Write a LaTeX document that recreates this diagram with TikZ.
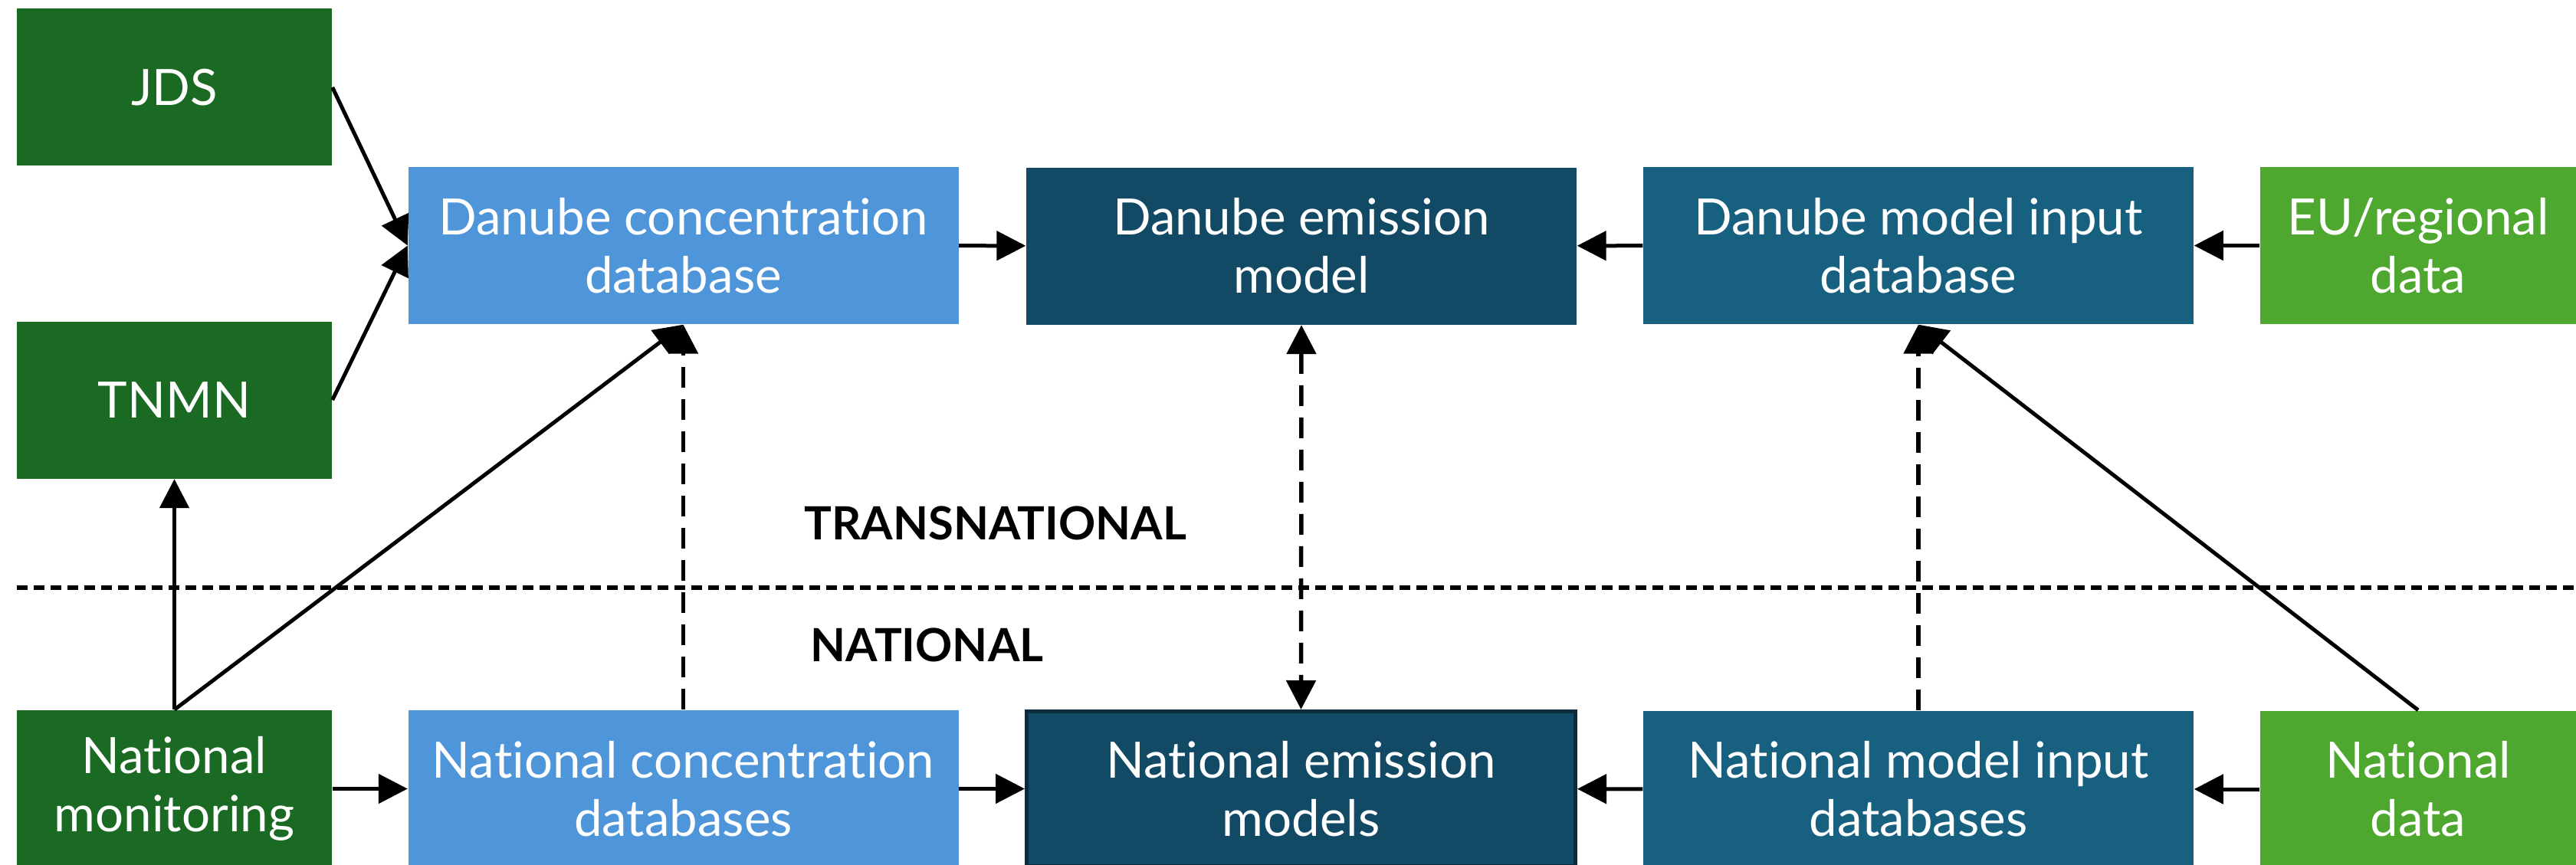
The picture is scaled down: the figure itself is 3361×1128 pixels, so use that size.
\documentclass[tikz,border=0pt]{standalone}
\usepackage{fontspec}
\setmainfont{Lato}[Ligatures=NoCommon]
\usetikzlibrary{arrows.meta}
\definecolor{dgreen}{HTML}{1B6A23}
\definecolor{lblue}{HTML}{4F95D9}
\definecolor{navy}{HTML}{124964}
\definecolor{teal}{HTML}{17607F}
\definecolor{lgreen}{HTML}{4EA72E}
\definecolor{edgec}{HTML}{0B2A3B}
\tikzset{
  box/.style={rectangle, inner sep=0pt, text=white, align=center,
    minimum height=20.5mm, font=\fontsize{18.6}{21.6}\selectfont},
  smallbox/.style={box, minimum width=41.1mm},
  widebox/.style={box, minimum width=71.8mm},
  conn/.style={line width=0.5mm, -{Triangle[length=3.8mm,width=3.8mm]}},
  dconn/.style={line width=0.55mm, dash pattern=on 2.7mm off 1.5mm, -{Triangle[length=3.8mm,width=3.8mm]}},
  ddconn/.style={line width=0.55mm, dash pattern=on 2.7mm off 1.5mm, {Triangle[length=3.8mm,width=3.8mm]}-{Triangle[length=3.8mm,width=3.8mm]}},
  lvl/.style={anchor=west, inner sep=0pt, font=\fontsize{17}{20}\selectfont\bfseries}
}
\begin{document}
\begin{tikzpicture}[x=0.1mm, y=-0.1mm]
\clip (0,0) rectangle (3361,1128);
\fill[white] (0,0) rectangle (3361,1128);
% dividing line
\coordinate (dl) at (22,767);
\coordinate (dr) at (3361,767);
\draw[line width=0.6mm, dash pattern=on 1.4mm off 0.8mm] (dl) -- (dr);
\node[lvl] (tn) at (1049,683) {TRANSNATIONAL};
\node[lvl] (nat) at (1057,842) {NATIONAL};
% boxes
\node[smallbox, fill=dgreen] (jds) at (227.5,114) {JDS};
\node[smallbox, fill=dgreen] (tnmn) at (227.5,522) {TNMN};
\node[widebox, fill=lblue] (dcdb) at (891.5,320.5) {Danube concentration\\database};
\node[widebox, fill=navy] (dem) at (1698,321) {Danube emission\\model};
\node[widebox, fill=teal] (dmi) at (2503,320.5) {Danube model input\\database};
\node[box, minimum width=41.2mm, fill=lgreen] (eu) at (3155,320.5) {EU/regional\\data};
\node[smallbox, fill=dgreen] (nm) at (227.5,1029.5) {National\\monitoring};
\node[widebox, fill=lblue] (ncdb) at (891.5,1029.5) {National concentration\\databases};
\node[box, minimum width=71.6mm, minimum height=20.2mm, fill=navy, draw=edgec, line width=0.5mm] (nem) at (1697.5,1029.5) {National emission\\models};
\node[widebox, fill=teal] (nmi) at (2503,1030) {National model input\\databases};
\node[box, minimum width=41.2mm, fill=lgreen] (nd) at (3155,1030) {National\\data};
% arrows
\draw[conn] (jds.east) -- (dcdb.west);
\draw[conn] (tnmn.east) -- (dcdb.west);
\draw[conn] (dcdb) -- (dem);
\draw[conn] (dmi) -- (dem);
\draw[conn] (eu) -- (dmi);
\draw[conn] (nm) -- (ncdb);
\draw[conn] (ncdb) -- (nem);
\draw[conn] (nmi) -- (nem);
\draw[conn] (nd) -- (nmi);
\draw[conn] (nm.north) -- (tnmn.south);
\draw[conn] (nm.north) -- (dcdb.south);
\draw[conn] (nd.north) -- (dmi.south);
\draw[dconn] (ncdb.north) -- (dcdb.south);
\draw[dconn] (nmi.north) -- (dmi.south);
\draw[ddconn] (dem.south) -- (nem.north);
\end{tikzpicture}
\end{document}
